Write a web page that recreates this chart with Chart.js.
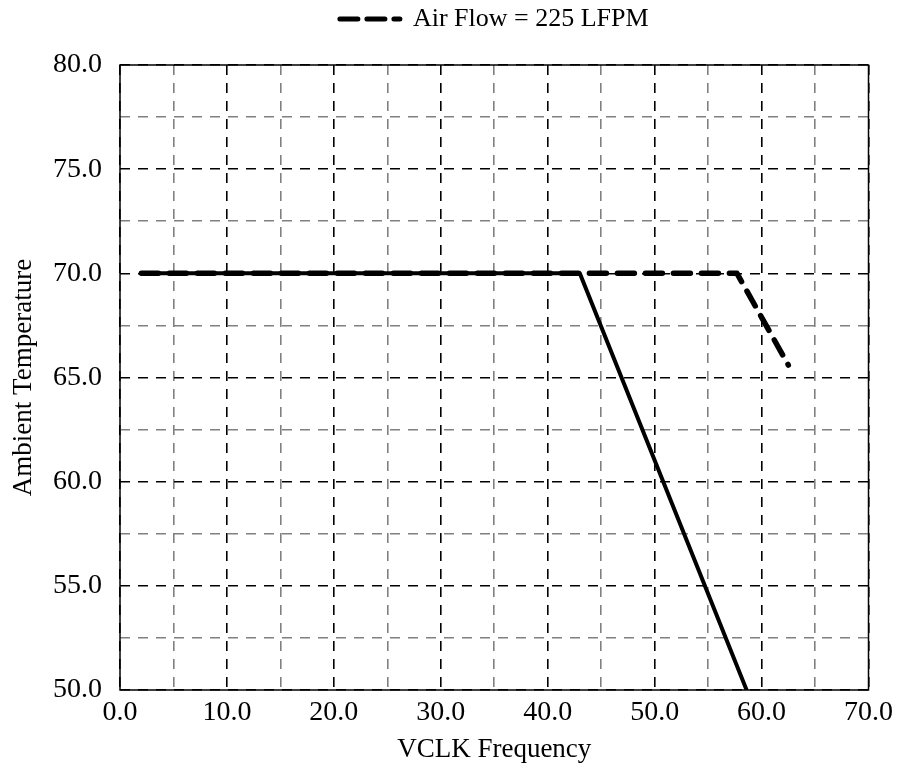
<!DOCTYPE html>
<html>
<head>
<meta charset="utf-8">
<script src="https://cdn.jsdelivr.net/npm/chart.js@4.4.0/dist/chart.umd.min.js"></script>
<style>
  html, body { margin: 0; padding: 0; background: #fff; }
  #wrap { width: 899px; height: 768px; }
</style>
</head>
<body>
<div id="wrap"><canvas id="chart"></canvas></div>
<script>
// values
const solidX = [2, 43, 58.6];
const solidY = [70, 70, 50];
const airFlowX = [2, 57.7, 62.5];
const airFlowY = [70, 70, 65.6];
const airFlowLabel = "Air Flow = 225 LFPM";
const xTitle = "VCLK Frequency";
const yTitle = "Ambient Temperature";

const FONT = "'Liberation Serif', 'Times New Roman', serif";

const toPoints = (xs, ys) => xs.map((x, i) => ({ x: x, y: ys[i] }));

// frame around the plot area (solid box)
const frame = {
  id: "frame",
  afterDraw(chart) {
    const a = chart.chartArea, c = chart.ctx;
    c.save();
    c.strokeStyle = "#000";
    c.lineWidth = 1.5;
    c.strokeRect(a.left, a.top, a.right - a.left, a.bottom - a.top);
    c.restore();
  }
};

// push the plot down below the legend
const legendGap = {
  id: "legendGap",
  beforeInit(chart) {
    const fit = chart.legend.fit;
    chart.legend.fit = function () {
      fit.call(this);
      this.height += 23;
    };
  }
};

const isMajor = (v, step) => Math.abs(v / step - Math.round(v / step)) < 1e-6;

const ctx = document.getElementById("chart").getContext("2d");
new Chart(ctx, {
  type: "line",
  data: {
    datasets: [
      {
        label: "",
        data: toPoints(solidX, solidY),
        borderColor: "#000",
        borderWidth: 4,
        pointRadius: 0,
        borderCapStyle: "round",
        borderJoinStyle: "round",
      },
      {
        label: airFlowLabel,
        data: toPoints(airFlowX, airFlowY),
        borderColor: "#000",
        backgroundColor: "#000",
        borderWidth: 5.5,
        borderDash: [17, 11],
        pointRadius: 0,
        borderCapStyle: "round",
        borderJoinStyle: "round",
      },
    ],
  },
  options: {
    responsive: true,
    maintainAspectRatio: false,
    animation: false,
    layout: { padding: { left: 0, right: 29, top: 0, bottom: 0 } },
    plugins: {
      tooltip: { enabled: false },
      legend: {
        position: "top",
        fullSize: false,
        labels: {
          color: "#000",
          font: { family: FONT, size: 26 },
          usePointStyle: true,
          pointStyle: "line",
          pointStyleWidth: 60,
          padding: 6,
          generateLabels(chart) {
            const items = Chart.defaults.plugins.legend.labels.generateLabels(chart);
            items.forEach((it) => {
              it.lineDash = [18, 9];
              it.lineCap = "round";
              it.lineWidth = 5;
              it.strokeStyle = "#000";
              it.pointStyle = "line";
            });
            return items;
          },
          filter: (item) => item.text !== "",
        },
      },
    },
    scales: {
      x: {
        type: "linear",
        min: 0,
        max: 70,
        afterFit(scale) { scale.height = 78; },
        ticks: {
          stepSize: 5,
          color: "#000",
          padding: 6,
          font: { family: FONT, size: 28 },
          maxRotation: 0,
          autoSkip: false,
          callback: (v) => isMajor(v, 10) ? v.toFixed(1) : "",
        },
        grid: {
          drawTicks: false,
          lineWidth: 1.6,
          color: (c) => isMajor(c.tick.value, 10) ? "#000" : "#808080",
        },
        border: { display: false, dash: [10, 8] },
        title: {
          display: true,
          text: xTitle,
          color: "#000",
          font: { family: FONT, size: 27 },
          padding: { top: 0, bottom: 2 },
        },
      },
      y: {
        type: "linear",
        min: 50,
        max: 80,
        afterFit(scale) { scale.width = 120; },
        ticks: {
          stepSize: 2.5,
          color: "#000",
          padding: 18,
          font: { family: FONT, size: 28 },
          autoSkip: false,
          callback: (v) => isMajor(v, 5) ? v.toFixed(1) : "",
        },
        grid: {
          drawTicks: false,
          lineWidth: 1.6,
          color: (c) => isMajor(c.tick.value, 5) ? "#000" : "#808080",
        },
        border: { display: false, dash: [10, 8] },
        title: {
          display: true,
          text: yTitle,
          color: "#000",
          font: { family: FONT, size: 27 },
          padding: { top: 8, bottom: 0 },
        },
      },
    },
  },
  plugins: [frame, legendGap],
});
</script>
</body>
</html>
